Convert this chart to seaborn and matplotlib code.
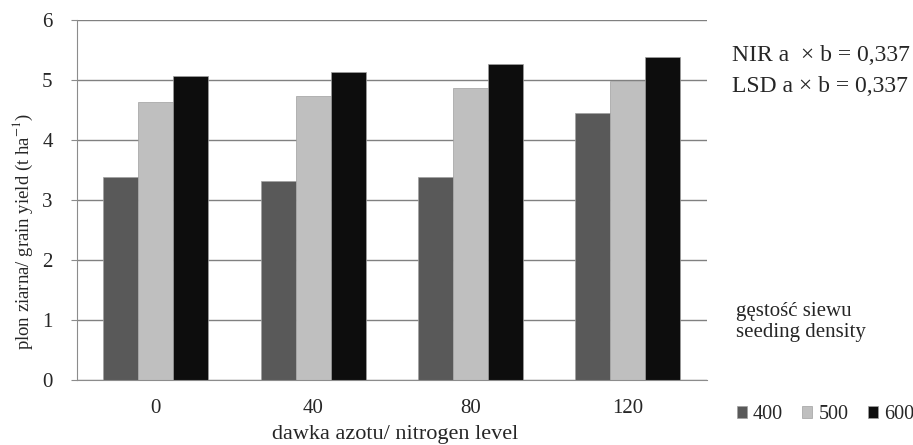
import matplotlib
matplotlib.use("Agg")
import matplotlib.pyplot as plt
import seaborn as sns
import pandas as pd

# dane
nitrogen = ["0", "40", "80", "120"]
density = ["400", "500", "600"]
yield_400 = [3.38, 3.31, 3.38, 4.45]
yield_500 = [4.63, 4.73, 4.86, 4.99]
yield_600 = [5.06, 5.14, 5.26, 5.38]
colors = ["#595959", "#bfbfbf", "#0d0d0d"]

df = pd.DataFrame({
    "dawka": nitrogen * 3,
    "gestosc": [d for d in density for _ in nitrogen],
    "plon": yield_400 + yield_500 + yield_600,
})

sns.set_style("white")
plt.rcParams["font.family"] = ["Liberation Serif", "DejaVu Serif"]
plt.rcParams["mathtext.fontset"] = "stix"

fig = plt.figure(figsize=(9.13, 4.45), dpi=100)
ax = fig.add_axes([0.0843, 0.146, 0.6897, 0.809])

sns.barplot(data=df, x="dawka", y="plon", hue="gestosc", order=nitrogen,
            hue_order=density, palette=colors, width=0.667, saturation=1,
            edgecolor="#a0a0a0", linewidth=0.5, ax=ax)

ax.set_ylim(0, 6)
ax.set_yticks(range(0, 7))
ax.grid(axis="y", color="#808080", linewidth=1)
ax.set_axisbelow(True)
for s in ["top", "right"]:
    ax.spines[s].set_visible(False)
for s in ["left", "bottom"]:
    ax.spines[s].set_color("#8c8c8c")
ax.tick_params(axis="y", length=4.5, color="#8c8c8c", labelsize=15, pad=13, left=True)
ax.tick_params(axis="x", length=0, labelsize=15, pad=14)
ax.set_xlabel("")
ax.set_ylabel("")

# opisy osi
fig.text(0.433, 0.045, "dawka azotu/ nitrogen level", fontsize=16, ha="center", va="top")
fig.text(0.025, 1 - 231 / 445, "plon ziarna/ grain yield (t ha$^{-1}$)", fontsize=13.5,
         rotation=90, ha="center", va="center")

handles, labels = ax.get_legend_handles_labels()
ax.legend_.remove()
fig.legend(handles, labels, loc="center left", bbox_to_anchor=(737 / 913, 0.068), ncol=3,
           frameon=False, fontsize=14.5, handlelength=0.5, handleheight=0.5,
           handletextpad=0.3, columnspacing=0.95, borderpad=0, borderaxespad=0)

fig.text(0.802, 0.863, "NIR a  × b = 0,337", fontsize=17, va="baseline")
fig.text(0.802, 0.793, "LSD a × b = 0,337", fontsize=17, va="baseline")
fig.text(0.806, 0.290, "gęstość siewu", fontsize=15, va="baseline")
fig.text(0.806, 0.243, "seeding density", fontsize=15, va="baseline")

fig.savefig("out.png", dpi=100)
